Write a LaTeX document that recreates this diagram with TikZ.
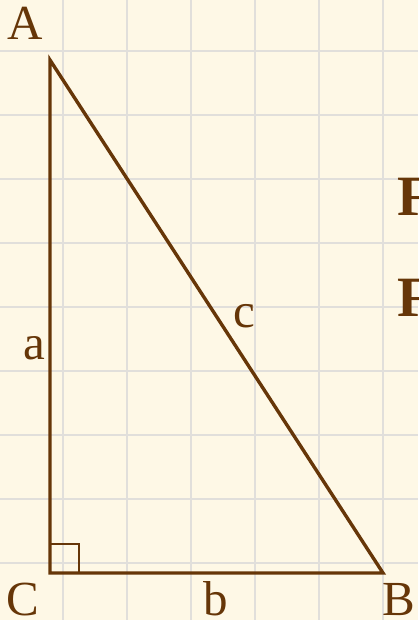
\documentclass[tikz,border=0pt]{standalone}
\usepackage{fontspec}
\setmainfont{Liberation Serif}
\definecolor{bgcream}{HTML}{FEF8E6}
\definecolor{gridgray}{HTML}{E1DFDB}
\definecolor{tribrown}{HTML}{663608}
\begin{document}
\begin{tikzpicture}[x=1pt,y=-1pt,
  gridline/.style={draw=gridgray,line width=2.6pt},
  side/.style={draw=tribrown,line width=3.4pt,line join=miter},
  lbl/.style={text=tribrown,font=\fontsize{49}{49}\selectfont,inner sep=0pt,anchor=base},
  flbl/.style={text=tribrown,font=\fontsize{57}{57}\selectfont\bfseries,inner sep=0pt,anchor=base west}]
\useasboundingbox (0,0) rectangle (418,620);
\fill[bgcream] (0,0) rectangle (418,620);
\foreach \x in {-1,63,127,191,255,319,383}
  \draw[gridline] (\x,0) -- (\x,620);
\foreach \y in {51,115,179,243,307,371,435,499,563}
  \draw[gridline] (0,\y) -- (418,\y);
\coordinate (A) at (50,60);
\coordinate (C) at (50,573);
\coordinate (B) at (383,573);
\coordinate (R1) at (50,544);
\coordinate (R2) at (79,544);
\coordinate (R3) at (79,573);
\draw[draw=tribrown,line width=1.5pt] (R1) -- (R2) -- (R3);
\draw[side] (A) -- (B) -- (C) -- cycle;
\node[lbl] (lA) at (25,40) {A};
\node[lbl] (lC) at (23,615) {C};
\node[lbl] (lB) at (399,615) {B};
\node[lbl] (la) at (34,359) {a};
\node[lbl] (lb) at (216,615) {b};
\node[lbl] (lc) at (244,327) {c};
\node[flbl] (f1) at (397,215) {F};
\node[flbl] (f2) at (397,316) {F};
\end{tikzpicture}
\end{document}
